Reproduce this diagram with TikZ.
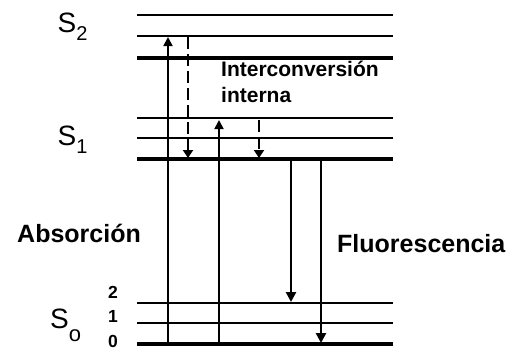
\documentclass[tikz,border=0pt]{standalone}
\usepackage{fontspec}
\setmainfont{Liberation Sans}
\usetikzlibrary{arrows.meta}
\begin{document}
\begin{tikzpicture}[x=1pt,y=-1pt,
  thinlvl/.style={line width=1.8pt},
  thicklvl/.style={line width=3.6pt},
  absarrow/.style={line width=1.8pt,-{Triangle[length=9pt,width=9pt]}},
  icarrow/.style={line width=2.4pt,dash pattern=on 12pt off 5pt,-{Triangle[length=8pt,width=10pt]}},
  flarrow/.style={line width=2.6pt,-{Triangle[length=10pt,width=10pt]}},
  statelbl/.style={anchor=base west,inner sep=0pt,font=\fontsize{28}{30}\selectfont},
  vibnum/.style={anchor=base,inner sep=0pt,font=\bfseries\fontsize{17.5}{18}\selectfont},
  biglbl/.style={anchor=base west,inner sep=0pt,font=\bfseries\fontsize{25}{28}\selectfont}]
\useasboundingbox (0,0) rectangle (521,354);
% energy levels
\foreach \y in {15,36,118,138,303,323} \draw[thinlvl] (137,\y) -- (393,\y);
\foreach \y in {58,159,344} \draw[thicklvl] (137,\y) -- (393,\y);
% state labels
\node[statelbl] (s2) at (57.5,32) {S\raisebox{-8pt}{\fontsize{20}{20}\selectfont 2}};
\node[statelbl] (s1) at (57.5,145) {S\raisebox{-8pt}{\fontsize{20}{20}\selectfont 1}};
\node[statelbl] (s0) at (50,328) {S\raisebox{-13pt}{\fontsize{22}{22}\selectfont o}};
\node[vibnum] (v2) at (113,298) {2};
\node[vibnum] (v1) at (113,322) {1};
\node[vibnum] (v0) at (113,347.5) {0};
% text labels
\node[biglbl] (abs) at (17,242) {Absorción};
\node[biglbl] (flu) at (337,252) {Fluorescencia};
\node[anchor=base west,inner sep=0pt,align=left,font=\bfseries\fontsize{21}{26}\selectfont] (ic) at (221,102) {Interconversión\\interna};
% arrow endpoints
\coordinate (a1s) at (168,344); \coordinate (a1e) at (168,37);
\coordinate (a2s) at (219,344); \coordinate (a2e) at (219,120);
\coordinate (i1s) at (188,37);  \coordinate (i1e) at (188,158);
\coordinate (i2s) at (259,120); \coordinate (i2e) at (259,158);
\coordinate (f1s) at (291,160); \coordinate (f1e) at (291,302);
\coordinate (f2s) at (321,160); \coordinate (f2e) at (321,343);
\draw[absarrow] (a1s) -- (a1e);
\draw[absarrow] (a2s) -- (a2e);
\draw[icarrow] (i1s) -- (i1e);
\draw[icarrow] (i2s) -- (i2e);
\draw[flarrow] (f1s) -- (f1e);
\draw[flarrow] (f2s) -- (f2e);
\end{tikzpicture}
\end{document}
